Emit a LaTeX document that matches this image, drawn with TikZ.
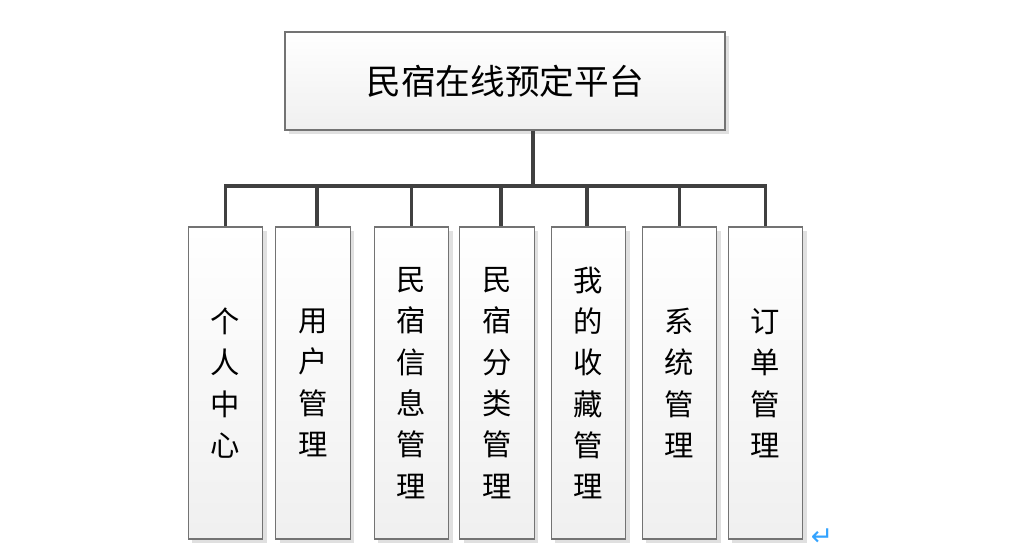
\documentclass[tikz,border=0pt]{standalone}
\usepackage{fontspec}
\newfontfamily\cjk{Noto Sans CJK SC}
\newfontfamily\retfont{DejaVu Sans}
\usetikzlibrary{shadows}
\tikzset{
  box/.style={draw=gray!90!black, line width=0.8pt, top color=white, bottom color=gray!12,
    drop shadow={fill=black!12, opacity=1, shadow xshift=3pt, shadow yshift=-3pt},
    inner sep=0pt, align=center},
  topbox/.style={box, minimum width=330pt, minimum height=73.5pt, font=\cjk\fontsize{26}{30}\selectfont},
  subbox/.style={box, minimum width=56pt, minimum height=234pt, font=\cjk\fontsize{22}{31}\selectfont},
  conn/.style={line width=2.8pt, draw=black!75},
}
\begin{document}
\begin{tikzpicture}[x=0.75pt, y=-0.75pt]
  \useasboundingbox (0,0) rectangle (1028,558);
  % Platform
  \node[topbox] (plat) at (505,81) {民宿在线预定平台};
  % Modules
  \node[subbox] (geren) at (225.5,383) {个\\人\\中\\心};
  \node[subbox] (yonghu) at (313,383) {用\\户\\管\\理};
  \node[subbox] (xinxi) at (411.5,383) {民\\宿\\信\\息\\管\\理};
  \node[subbox] (fenlei) at (497,383) {民\\宿\\分\\类\\管\\理};
  \node[subbox] (shoucang) at (588.5,383) {我\\的\\收\\藏\\管\\理};
  \node[subbox] (xitong) at (679.5,383) {系\\统\\管\\理};
  \node[subbox] (dingdan) at (765.5,383) {订\\单\\管\\理};
  % Bus
  \coordinate (bus) at (533,186);
  \draw[conn] (plat.south -| bus) -- (bus);
  \draw[conn, line cap=rect] (geren.north |- bus) -- (dingdan.north |- bus);
  \draw[conn] (geren.north |- bus) -- (geren.north);
  \draw[conn] (bus -| 317,0) -- (yonghu.north -| 317,0);
  \draw[conn] (xinxi.north |- bus) -- (xinxi.north);
  \draw[conn] (bus -| 501,0) -- (fenlei.north -| 501,0);
  \draw[conn] (bus -| 587,0) -- (shoucang.north -| 587,0);
  \draw[conn] (xitong.north |- bus) -- (xitong.north);
  \draw[conn] (dingdan.north |- bus) -- (dingdan.north);
  % Paragraph mark
  \node[text=blue!45!cyan!80, font=\retfont\fontsize{20}{20}\selectfont] (ret) at (822,537) {↵};
\end{tikzpicture}
\end{document}
